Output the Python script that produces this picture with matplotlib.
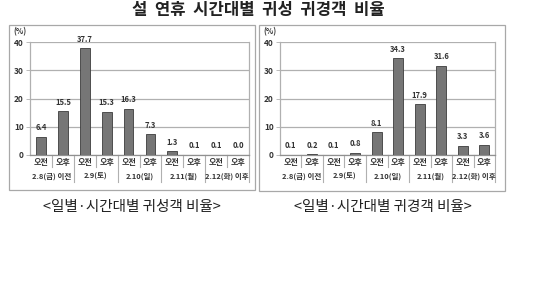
import matplotlib
matplotlib.use("Agg")
import matplotlib.pyplot as plt
from matplotlib.patches import Rectangle
import matplotlib.transforms as mtrans

plt.rcParams['font.family'] = ['Noto Sans CJK KR', 'DejaVu Sans']

title = "설  연휴  시간대별  귀성  귀경객  비율"
captions = ["<일별·시간대별 귀성객 비율>", "<일별·시간대별 귀경객 비율>"]
slots = ["오전", "오후"]
dates = ["2.8(금) 이전", "2.9(토)", "2.10(일)", "2.11(월)", "2.12(화) 이후"]
yticks = [0, 10, 20, 30, 40]
outbound = [6.4, 15.5, 37.7, 15.3, 16.3, 7.3, 1.3, 0.1, 0.1, 0.0]
inbound = [0.1, 0.2, 0.1, 0.8, 8.1, 34.3, 17.9, 31.6, 3.3, 3.6]

W, H = 550, 308
fig = plt.figure(figsize=(5.5, 3.08), dpi=100)
fig.patch.set_facecolor("white")

def fx(px):
    return px / W

def fy(py):
    return 1 - py / H

fig.text(fx(258), fy(10), title, ha="center", va="center", fontsize=12,
         fontweight="bold", color="#222222")

boxes = [(9, 25, 255, 190), (259, 25, 505, 191)]
for (x0, y0, x1, y1) in boxes:
    fig.patches.append(Rectangle((fx(x0), fy(y1)), fx(x1) - fx(x0), fy(y0) - fy(y1),
                                 transform=fig.transFigure, fill=False,
                                 edgecolor="#a8a8a8", linewidth=0.9))

axes_px = [(30, 249), (280, 495)]
ytop, ybot = 42, 155
cap_x = [132, 383]
gridc = "#b0b0b0"
txtc = "#333333"

for i, (vals, (ax0, ax1)) in enumerate(zip([outbound, inbound], axes_px)):
    ax = fig.add_axes([fx(ax0), fy(ybot), fx(ax1) - fx(ax0), fy(ytop) - fy(ybot)])
    n = len(vals)
    xs = list(range(n))
    ax.bar(xs, vals, width=0.45, color="#767676", edgecolor="#3c3c3c", linewidth=0.6, zorder=3)
    ax.set_xlim(-0.5, n - 0.5)
    ax.set_ylim(0, 40)
    ax.set_yticks(yticks)
    ax.set_yticklabels([str(t) for t in yticks], fontsize=6, color=txtc, fontweight="bold")
    ax.tick_params(axis="y", length=3, width=0.6, color=gridc, pad=1.5)
    ax.set_xticks([])
    ax.yaxis.grid(True, color=gridc, linewidth=0.9, zorder=0)
    for s in ["left", "right", "bottom"]:
        ax.spines[s].set_color(gridc)
        ax.spines[s].set_linewidth(0.9)
    ax.spines["top"].set_visible(False)
    ax.spines["bottom"].set_color("#909090")
    for x, v in zip(xs, vals):
        ax.text(x, v + 1.6, f"{v:.1f}", ha="center", va="bottom", fontsize=5.5,
                color=txtc, fontweight="bold", clip_on=False)
    trans = mtrans.blended_transform_factory(ax.transData, ax.transAxes)
    for x in xs:
        ax.text(x, -0.065, slots[x % 2], transform=trans, ha="center", va="center",
                fontsize=5.8, color=txtc, fontweight="bold")
    for g, d in enumerate(dates):
        ax.text(2 * g + 0.5, -0.19, d, transform=trans, ha="center", va="center",
                fontsize=5.4, color=txtc, fontweight="bold")
    for k in range(1, n):
        bottom = -0.24 if k % 2 == 0 else -0.11
        ax.plot([k - 0.5, k - 0.5], [0, bottom], transform=trans, color=gridc,
                linewidth=0.8, clip_on=False)
    ax.plot([n - 0.5, n - 0.5], [0, -0.24], transform=trans, color=gridc,
            linewidth=0.8, clip_on=False)
    fig.text(fx(ax0 - 10), fy(32), "(%)", ha="center", va="center", fontsize=5.5,
             color=txtc, fontweight="bold")
    fig.text(fx(cap_x[i]), fy(207), captions[i], ha="center", va="center",
             fontsize=10.5, color="#222222")

fig.savefig("out.png", dpi=100, facecolor="white")
